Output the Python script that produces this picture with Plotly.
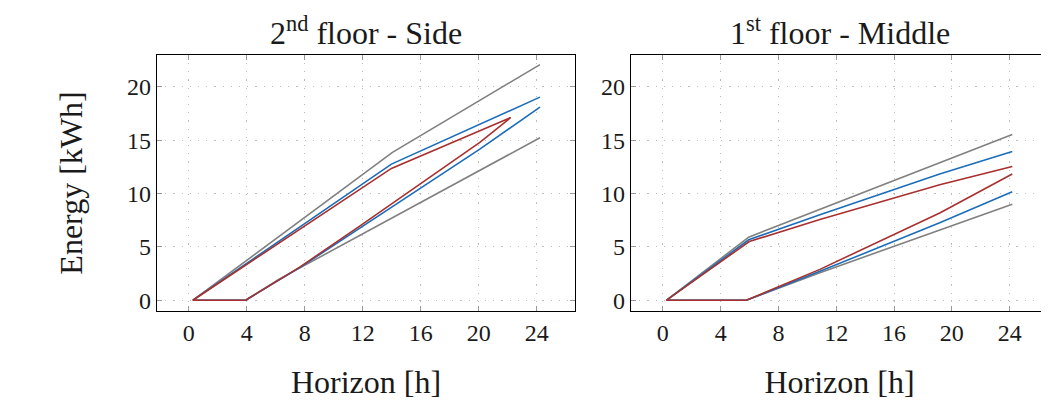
import plotly.graph_objects as go
from plotly.subplots import make_subplots

GRAY = "#808080"
BLUE = "#1c6db9"
RED = "#a8302e"

# 2nd floor - Side (left panel): upper and lower bound paths per series
side_gray_upper_x = [0.28, 14.05, 24.23]
side_gray_upper_y = [0.0, 13.85, 22.08]
side_gray_lower_x = [3.92, 6.2, 24.23]
side_gray_lower_y = [0.0, 1.95, 15.22]

side_blue_upper_x = [0.28, 13.98, 24.23]
side_blue_upper_y = [0.0, 12.75, 19.03]
side_blue_lower_x = [3.92, 7.65, 11.79, 20.08, 24.23]
side_blue_lower_y = [0.0, 3.05, 6.75, 14.15, 18.1]

side_red_upper_x = [0.28, 13.98, 22.2]
side_red_upper_y = [0.0, 12.35, 17.1]
side_red_lower_x = [3.92, 7.65, 11.79, 20.08, 22.2]
side_red_lower_y = [0.0, 3.1, 6.94, 14.78, 17.1]

# 1st floor - Middle (right panel)
mid_gray_upper_x = [0.26, 5.94, 24.18]
mid_gray_upper_y = [0.0, 5.91, 15.52]
mid_gray_lower_x = [5.78, 10.87, 19.16, 24.18]
mid_gray_lower_y = [0.0, 2.58, 6.6, 8.99]

mid_blue_upper_x = [0.26, 5.94, 10.87, 19.16, 24.18]
mid_blue_upper_y = [0.0, 5.66, 8.0, 11.82, 13.93]
mid_blue_lower_x = [5.78, 10.87, 19.16, 24.18]
mid_blue_lower_y = [0.0, 2.71, 7.25, 10.17]

mid_red_upper_x = [0.26, 5.98, 10.87, 19.16, 24.18]
mid_red_upper_y = [0.0, 5.5, 7.56, 10.82, 12.53]
mid_red_lower_x = [5.78, 10.87, 19.16, 24.18]
mid_red_lower_y = [0.0, 2.89, 8.18, 11.82]

x_ticks = [0, 4, 8, 12, 16, 20, 24]
y_ticks = [0, 5, 10, 15, 20]

FONT = "Liberation Serif"
TEXT = "#1a1a1a"


def band_path(ux, uy, lx, ly):
    # walk the upper bound backwards to the start, then out along the lower bound
    return ux[::-1] + lx, uy[::-1] + ly


fig = make_subplots(rows=1, cols=2)

panels = [
    (1, [(side_gray_upper_x, side_gray_upper_y, side_gray_lower_x, side_gray_lower_y, GRAY),
         (side_blue_upper_x, side_blue_upper_y, side_blue_lower_x, side_blue_lower_y, BLUE),
         (side_red_upper_x, side_red_upper_y, side_red_lower_x, side_red_lower_y, RED)]),
    (2, [(mid_gray_upper_x, mid_gray_upper_y, mid_gray_lower_x, mid_gray_lower_y, GRAY),
         (mid_blue_upper_x, mid_blue_upper_y, mid_blue_lower_x, mid_blue_lower_y, BLUE),
         (mid_red_upper_x, mid_red_upper_y, mid_red_lower_x, mid_red_lower_y, RED)]),
]
for col, series in panels:
    for ux, uy, lx, ly, color in series:
        xs, ys = band_path(ux, uy, lx, ly)
        fig.add_trace(go.Scatter(x=xs, y=ys, mode="lines", line=dict(color=color, width=1.6),
                                 showlegend=False, hoverinfo="skip"), row=1, col=col)

axis_common = dict(showline=True, linecolor="black", linewidth=1.3, mirror="ticks",
                   ticks="inside", ticklen=5, tickcolor="#999999", tickwidth=1.2,
                   showgrid=True, gridcolor="#bdbdbd", gridwidth=1, griddash="1.2px,7px",
                   zeroline=False, tickfont=dict(family=FONT, size=24, color=TEXT))

fig.update_xaxes(**axis_common, range=[-2.2, 26.65], tickvals=x_ticks,
                 title=dict(text="Horizon [h]", font=dict(family=FONT, size=32, color=TEXT), standoff=25))
fig.update_yaxes(**axis_common, range=[-1.03, 23.0], tickvals=y_ticks)
fig.update_yaxes(title=dict(text="Energy [kWh]", font=dict(family=FONT, size=32, color=TEXT), standoff=34),
                 row=1, col=1)

# the page body keeps its default 8px margin, so the figure is sized to fit the window
fig.update_layout(
    width=1041, height=401,
    margin=dict(l=0, r=0, t=0, b=0),
    plot_bgcolor="white", paper_bgcolor="white",
    xaxis=dict(domain=[0.1431, 0.5447]),
    xaxis2=dict(domain=[0.5985, 0.9990]),
    yaxis=dict(domain=[0.2401, 0.8828]),
    yaxis2=dict(domain=[0.2401, 0.8828]),
    annotations=[
        dict(text="2<sup>nd</sup> floor - Side", x=0.3439, y=0.942, xref="paper", yref="paper",
             showarrow=False, xanchor="center", yanchor="middle",
             font=dict(family=FONT, size=32, color=TEXT)),
        dict(text="1<sup>st</sup> floor - Middle", x=0.7988, y=0.942, xref="paper", yref="paper",
             showarrow=False, xanchor="center", yanchor="middle",
             font=dict(family=FONT, size=32, color=TEXT)),
    ],
)

fig.write_html("out.html")
